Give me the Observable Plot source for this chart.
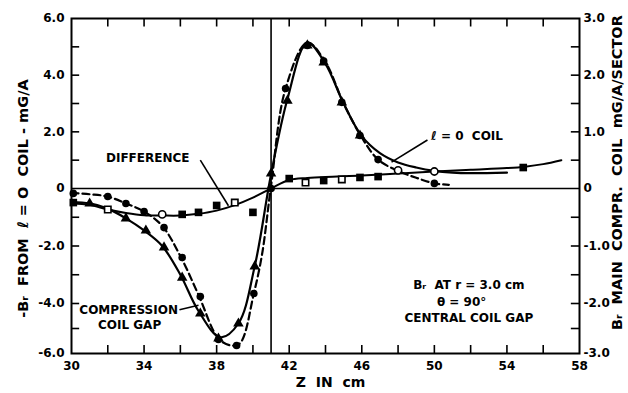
<!DOCTYPE html>
<html>
<head>
<meta charset="utf-8">
<script src="https://cdn.jsdelivr.net/npm/d3@7"></script>
<script src="https://cdn.jsdelivr.net/npm/@observablehq/plot@0.6"></script>
<style>
  html, body { margin: 0; padding: 0; background: #fff; }
  #chart svg { display: block; }
</style>
</head>
<body>
<div id="chart"></div>
<script>
// ---- data ----
// solid curve (compression coil gap / l=0 coil), triangle markers
const solidZ = [30, 31, 32, 33, 34, 35, 36, 37, 38.2, 39.2, 40.1, 41, 41.9, 43, 44, 45, 46, 47, 48, 49, 50, 51, 52, 54];
const solidV = [-0.47, -0.52, -0.7, -1.04, -1.46, -2.0, -3.0, -4.3, -5.35, -4.8, -2.7, 0.5, 3.15, 5.15, 4.4, 3.0, 1.85, 1.25, 0.92, 0.74, 0.62, 0.56, 0.54, 0.56];
const triZ = [31, 33, 34.1, 35.1, 36.1, 37.1, 38.1, 39.2, 40.1, 41, 41.9, 43, 43.9, 44.9, 45.9];
const triV = [-0.52, -1.04, -1.46, -2.05, -3.1, -4.4, -5.4, -4.8, -2.71, 0.53, 3.1, 5.05, 4.45, 3.04, 1.87];

// dashed curve, filled circle markers
const dashZ = [30, 31, 32, 33, 34, 35, 36, 37, 38.1, 38.8, 39.3, 40.05, 40.5, 41, 41.8, 43, 44, 45, 46, 46.9, 48, 49, 50, 50.8];
const dashV = [-0.15, -0.2, -0.28, -0.52, -0.8, -1.3, -2.35, -3.7, -5.4, -5.68, -5.58, -3.65, -2.3, 0.1, 3.53, 5.15, 4.45, 3.0, 1.8, 1.02, 0.62, 0.38, 0.18, 0.13];
const circZ = [30.1, 32, 33, 34, 35.1, 36.1, 37.1, 38.1, 39.1, 40.05, 41, 41.8, 43, 43.9, 44.9, 45.9, 46.9, 50];
const circV = [-0.17, -0.28, -0.52, -0.8, -1.36, -2.4, -3.76, -5.44, -5.68, -3.65, 0, 3.53, 5.05, 4.5, 3.04, 1.87, 1.02, 0.18];

// difference curve, square markers
const diffZ = [30, 31, 32, 33, 34, 35, 36, 37, 38, 39, 40, 41, 42, 43, 44, 46, 48, 50, 52, 54, 55, 56, 57];
const diffV = [-0.52, -0.57, -0.73, -0.85, -0.93, -0.94, -0.94, -0.88, -0.77, -0.58, -0.32, 0, 0.3, 0.37, 0.41, 0.46, 0.53, 0.6, 0.66, 0.72, 0.77, 0.86, 1.0];
const sqZ = [30.1, 36.1, 37, 38, 40, 42, 43.9, 45.9, 46.9, 54.9];
const sqV = [-0.49, -0.9, -0.83, -0.59, -0.83, 0.35, 0.28, 0.39, 0.42, 0.74];
const openSqZ = [32, 39, 42.9, 44.9];
const openSqV = [-0.73, -0.49, 0.21, 0.32];
const openCircZ = [35, 48, 50];
const openCircV = [-0.9, 0.64, 0.6];

// axes
const xTickMinor = [32, 34, 36, 38, 40, 42, 44, 46, 48, 50, 52, 54, 56];
const xLabels = [30, 34, 38, 42, 46, 50, 54, 58];
const yTickMinor = [-5, -4, -3, -2, -1, 1, 2, 3, 4, 5];
const yLeftVals = [-6, -4, -2, 0, 2, 4, 6];
const yLeftText = ["-6.0", "-4.0", "-2.0", "0", "2.0", "4.0", "6.0"];
const yRightVals = [-6, -4, -2, 0, 2, 4, 6];
const yRightText = ["-3.0", "-2.0", "-1.0", "0", "1.0", "2.0", "3.0"];

// annotations (data coordinates)
const notes = [
  {z: 34.2, v: 1.07, t: "DIFFERENCE"},
  {z: 33.15, v: -4.25, t: "COMPRESSION"},
  {z: 33.2, v: -4.85, t: "COIL GAP"},
  {z: 51.8, v: 1.86, t: "ℓ = 0  COIL"},
  {z: 51.9, v: -3.35, t: "Bᵣ  AT r = 3.0 cm"},
  {z: 51.5, v: -3.95, t: "θ = 90°"},
  {z: 51.9, v: -4.6, t: "CENTRAL COIL GAP"}
];
const leaders = [
  {z1: 37.1, v1: 1.0, z2: 38.65, v2: -0.6},
  {z1: 35.95, v1: -4.25, z2: 37.0, v2: -4.07},
  {z1: 49.62, v1: 1.71, z2: 47.64, v2: 0.93}
];

const pts = (Z, V) => Z.map((z, i) => ({z, v: V[i]}));
const font = "DejaVu Sans, sans-serif";

const chart = Plot.plot({
  width: 628,
  height: 393,
  marginLeft: 71,
  marginRight: 49,
  marginTop: 18,
  marginBottom: 40,
  style: {fontFamily: font, background: "#fff"},
  x: {domain: [30, 58], axis: null},
  y: {type: "linear", domain: [-6, -4, 0, 6], range: [353, 303, 188, 18], axis: null},
  marks: [
    Plot.frame({stroke: "#000", strokeWidth: 2}),
    Plot.ruleY([0], {stroke: "#000", strokeWidth: 1.6}),
    Plot.ruleX([41], {stroke: "#000", strokeWidth: 1.6}),
    // ticks
    Plot.ruleX(xTickMinor, {x: d => d, y1: -6, y2: -5.68, stroke: "#000", strokeWidth: 1.6}),
    Plot.ruleX(xTickMinor, {x: d => d, y1: 6, y2: 5.7, stroke: "#000", strokeWidth: 1.6}),
    Plot.ruleY(yTickMinor, {y: d => d, x1: 30, x2: 30.45, stroke: "#000", strokeWidth: 1.6}),
    Plot.ruleY(yTickMinor, {y: d => d, x1: 57.55, x2: 58, stroke: "#000", strokeWidth: 1.6}),
    // tick labels
    Plot.text(xLabels, {x: d => d, y: -6, dy: 13, text: d => String(d), fontSize: 12, fontWeight: "bold"}),
    Plot.text(yLeftVals, {x: 30, y: d => d, dx: -7, text: (d, i) => yLeftText[i], textAnchor: "end", fontSize: 12, fontWeight: "bold"}),
    Plot.text(yRightVals, {x: 58, y: d => d, dx: 4, text: (d, i) => yRightText[i], textAnchor: "start", fontSize: 12, fontWeight: "bold"}),
    // axis titles
    Plot.text(["-Bᵣ  FROM  ℓ = O  COIL - mG/A"], {x: 30, y: -0.35, dx: -48, rotate: -90, text: d => d, fontSize: 14.5, fontWeight: "bold", letterSpacing: 2}),
    Plot.text(["Bᵣ  MAIN  COMPR.  COIL  mG/A/SECTOR"], {x: 58, y: 0.56, dx: 38, rotate: -90, text: d => d, fontSize: 14.5, fontWeight: "bold", letterSpacing: 0.8}),
    Plot.text(["Z  IN  cm"], {x: 44.28, y: -6, dy: 29, text: d => d, fontSize: 14, fontWeight: "bold", letterSpacing: 1}),
    // curves
    Plot.line(pts(diffZ, diffV), {x: "z", y: "v", curve: "catmull-rom", stroke: "#000", strokeWidth: 2}),
    Plot.line(pts(solidZ, solidV), {x: "z", y: "v", curve: "catmull-rom", stroke: "#000", strokeWidth: 2.2}),
    Plot.line(pts(dashZ, dashV), {x: "z", y: "v", curve: "catmull-rom", stroke: "#000", strokeWidth: 2.2, strokeDasharray: "7,4"}),
    // markers
    Plot.dot(pts(triZ, triV), {x: "z", y: "v", symbol: "triangle", r: 3.9, fill: "#000"}),
    Plot.dot(pts(circZ, circV), {x: "z", y: "v", symbol: "circle", r: 3.8, fill: "#000"}),
    Plot.dot(pts(sqZ, sqV), {x: "z", y: "v", symbol: "square", r: 4.3, fill: "#000"}),
    Plot.dot(pts(openSqZ, openSqV), {x: "z", y: "v", symbol: "square", r: 3.6, fill: "#fff", stroke: "#000", strokeWidth: 1.6}),
    Plot.dot(pts(openCircZ, openCircV), {x: "z", y: "v", symbol: "circle", r: 3.6, fill: "#fff", stroke: "#000", strokeWidth: 1.6}),
    // leaders and notes
    Plot.link(leaders, {x1: "z1", y1: "v1", x2: "z2", y2: "v2", stroke: "#000", strokeWidth: 1.6}),
    Plot.text(notes, {x: "z", y: "v", text: "t", fontSize: 12, fontWeight: "bold", fill: "#000"})
  ]
});
document.getElementById("chart").appendChild(chart);
</script>
</body>
</html>
